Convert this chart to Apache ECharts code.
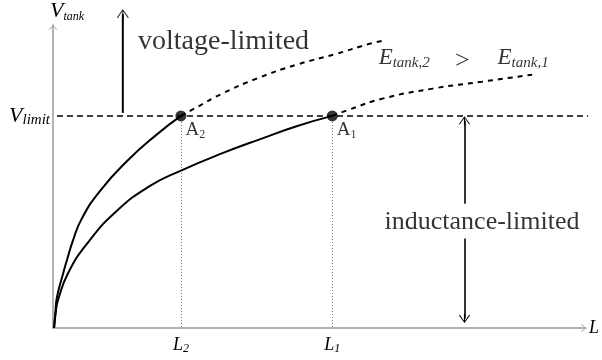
<!DOCTYPE html>
<html>
<head>
<meta charset="utf-8">
<script src="https://cdn.jsdelivr.net/npm/echarts@6/dist/echarts.min.js"></script>
<style>
  html, body { margin: 0; padding: 0; background: #fff; }
  #chart { width: 602px; height: 360px; }
</style>
</head>
<body>
<div id="chart"></div>
<script>
// Tank voltage against inductance for two tank energies (E_tank,2 > E_tank,1).
const V_LIMIT = 70;
const L_2 = 24.0;
const L_1 = 52.4;

// Higher-energy curve: solid up to the voltage limit (A2), dashed beyond it
const eTank2Solid = [[0.2, 0], [0.45, 5], [0.7, 9.8], [1.9, 18.0], [2.6, 22.3], [3.75, 28.9], [5.4, 36.1], [8.8, 45.2], [13.9, 55.1], [19.5, 63.9], [L_2, V_LIMIT]];
const eTank2Dashed = [[L_2, V_LIMIT], [26.6, 72.5], [31.8, 77.4], [38.2, 82.3], [45.7, 86.9], [53.2, 90.5], [59.4, 93.8], [61.8, 94.8]];

// Lower-energy curve: solid up to A1, dashed beyond it
const eTank1Solid = [[0.2, 0], [0.56, 5.9], [0.94, 9.2], [2.8, 18.0], [6.55, 28.2], [12.0, 38.7], [18.2, 46.9], [23.8, 51.8], [31.8, 57.7], [39.3, 62.6], [45.7, 66.6], [L_1, V_LIMIT]];
const eTank1Dashed = [[L_1, V_LIMIT], [55.6, 72.1], [61.8, 75.7], [71.2, 79.0], [80.5, 81.3], [89.9, 83.6]];

// Horizontal voltage limit
const limitSpan = [0.75, 103];

// Operating points where each curve meets the limit
const pointNames = ['A2', 'A1'];
const pointL = [L_2, L_1];

const serif = 'Liberation Serif';
// Open arrowhead with a short stem, tip at the top of the box
const arrowHead = 'path://M10,0 L20,17 L18.5,18.5 L11,5 L11,20 L9,20 L9,5 L1.5,18.5 L0,17 Z';
const axisHead = 'path://M8,0 L16,9 L15,10 L8,2 L1,10 L0,9 Z';

const subRich = (big, small) => ({
  i: { fontFamily: serif, fontStyle: 'italic', fontSize: big, color: '#000', lineHeight: big + 2 },
  s: { fontFamily: serif, fontStyle: 'italic', fontSize: small, color: '#000', verticalAlign: 'bottom', lineHeight: small + 2 }
});

const chart = echarts.init(document.getElementById('chart'), null, { renderer: 'canvas' });

const solid = (name, data) => ({
  name, type: 'line', data, showSymbol: false, smooth: 0.5,
  lineStyle: { color: '#000', width: 2 }, z: 5, silent: true
});
const dashed = (name, data) => ({
  name, type: 'line', data, showSymbol: false, smooth: 0.5, clip: false,
  lineStyle: { color: '#000', width: 2, type: [5, 5] }, z: 5, silent: true
});
const textMark = (text, x, y, style, align) => ({
  type: 'scatter', symbolSize: 0, silent: true, clip: false,
  data: [{ value: [x, y] }],
  label: Object.assign({ show: true, position: 'inside', formatter: text, align: align || 'center', verticalAlign: 'middle', color: '#000' }, style)
});

// Upward "voltage-limited" arrow, rising from the limit line
const voltageArrowX = 13.1;
const voltageArrowTop = 103.6;

const option = {
  animation: false,
  backgroundColor: '#fff',
  grid: { left: 53, right: 15, top: 23, bottom: 32, containLabel: false },
  xAxis: {
    type: 'value', min: 0, max: 100,
    name: 'L', nameLocation: 'end', nameGap: 3,
    nameTextStyle: { fontFamily: serif, fontStyle: 'italic', fontSize: 18, color: '#000', align: 'left', verticalAlign: 'middle' },
    axisLine: { lineStyle: { color: '#9a9a9a', width: 1.5 }, symbol: ['none', axisHead], symbolSize: [8, 5], symbolOffset: [0, -2.5] },
    axisTick: { show: false },
    splitLine: { show: false },
    axisLabel: {
      customValues: pointL, margin: 7,
      formatter: v => '{i|L}{s|' + (v === L_2 ? '2' : '1') + '}',
      rich: subRich(18, 12)
    }
  },
  yAxis: {
    type: 'value', min: 0, max: 100,
    name: '{i|V}{s|tank}', nameLocation: 'end', nameGap: 2,
    nameTextStyle: { align: 'left', verticalAlign: 'bottom', padding: [0, 0, 0, -3], rich: subRich(22, 12) },
    axisLine: { lineStyle: { color: '#9a9a9a', width: 1.5 }, symbol: ['none', axisHead], symbolSize: [8, 5], symbolOffset: [0, -2.5] },
    axisTick: { show: false },
    splitLine: { show: false },
    axisLabel: {
      customValues: [V_LIMIT], margin: 3,
      formatter: () => '{i|V}{s|limit}',
      rich: subRich(22, 15)
    }
  },
  series: [
    solid('E_tank,2', eTank2Solid),
    dashed('E_tank,2 beyond limit', eTank2Dashed),
    solid('E_tank,1', eTank1Solid),
    dashed('E_tank,1 beyond limit', eTank1Dashed),
    {
      name: 'V_limit', type: 'line', showSymbol: false, clip: false, silent: true,
      data: limitSpan.map(x => [x, V_LIMIT]),
      lineStyle: { color: '#000', width: 1.5, type: [6, 4] },
      markLine: {
        silent: true, animation: false, label: { show: false },
        symbol: ['none', 'none'],
        data: [
          // dotted drop lines to the axis
          [{ coord: [L_2, V_LIMIT - 2], lineStyle: { color: '#777', width: 1, type: [1, 2] } }, { coord: [L_2, 0] }],
          [{ coord: [L_1, V_LIMIT - 2], lineStyle: { color: '#777', width: 1, type: [1, 2] } }, { coord: [L_1, 0] }],
          // inductance-limited double arrow, split around the text
          [{ coord: [77.2, 41.0], symbol: 'none', lineStyle: { color: '#000', width: 1.6, type: 'solid' } },
           { coord: [77.2, 68.4], symbol: arrowHead, symbolSize: [11, 9] }],
          [{ coord: [77.2, 29.5], symbol: 'none', lineStyle: { color: '#000', width: 1.6, type: 'solid' } },
           { coord: [77.2, 3.1], symbol: arrowHead, symbolSize: [11, 9] }]
        ]
      }
    },
    {
      name: 'voltage arrow shaft', type: 'line', showSymbol: false, clip: false, silent: true,
      data: [[voltageArrowX, V_LIMIT + 1], [voltageArrowX, voltageArrowTop]],
      lineStyle: { color: '#000', width: 2 }
    },
    {
      name: 'voltage arrow head', type: 'scatter', clip: false, silent: true,
      data: [[voltageArrowX, voltageArrowTop]],
      symbol: arrowHead, symbolSize: [12, 10], itemStyle: { color: '#000' }
    },
    {
      name: 'operating points', type: 'scatter', silent: true, z: 6,
      data: pointNames.map((n, i) => ({ name: n, value: [pointL[i], V_LIMIT] })),
      symbolSize: 11, itemStyle: { color: '#000' },
      label: {
        show: true, position: [10, 10], align: 'left', verticalAlign: 'top',
        formatter: p => '{a|A}{s|' + p.name.slice(1) + '}',
        rich: {
          a: { fontFamily: serif, fontSize: 19, color: '#000', lineHeight: 20 },
          s: { fontFamily: serif, fontSize: 12, color: '#000', verticalAlign: 'bottom', lineHeight: 14 }
        }
      }
    },
    textMark('voltage-limited', 32.0, 94.6, { fontFamily: serif, fontSize: 28 }),
    textMark('inductance-limited', 80.5, 35.0, { fontFamily: serif, fontSize: 26 }),
    textMark('{i|E}{s|tank,2}', 61.1, 89.0, { rich: subRich(23, 15) }, 'left'),
    textMark('>', 76.8, 88.0, { fontFamily: serif, fontSize: 26 }),
    textMark('{i|E}{s|tank,1}', 83.4, 89.0, { rich: subRich(23, 15) }, 'left')
  ]
};

chart.setOption(option);
</script>
</body>
</html>
